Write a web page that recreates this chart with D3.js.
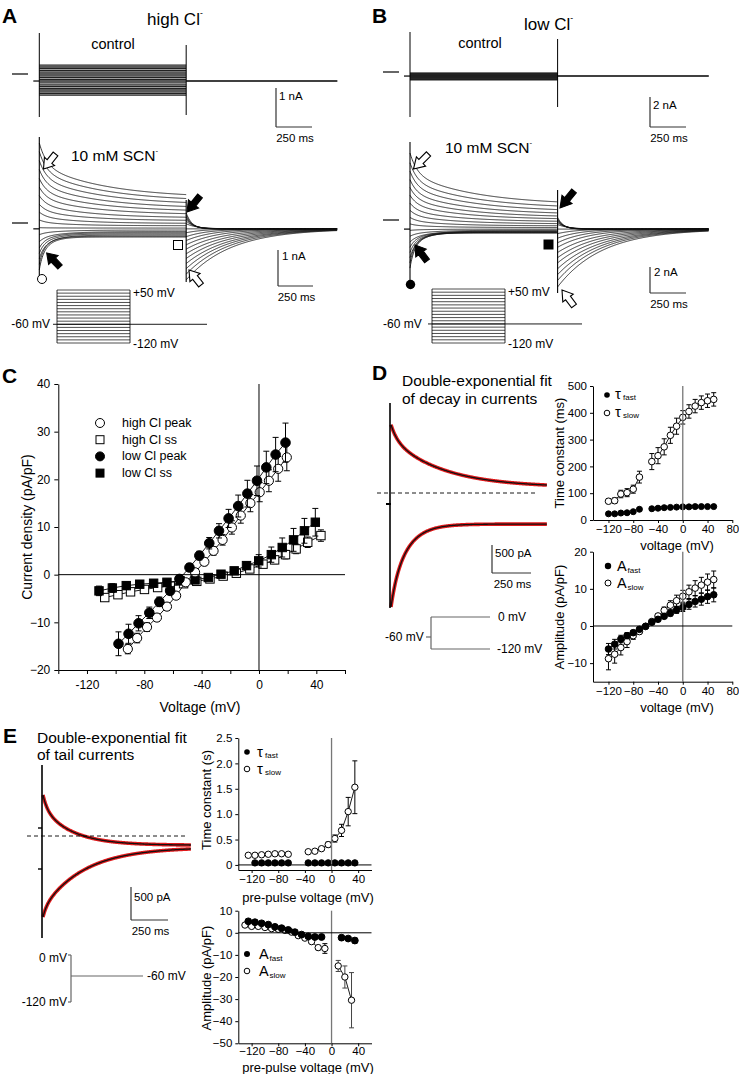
<!DOCTYPE html>
<html><head><meta charset="utf-8">
<script src="https://cdn.jsdelivr.net/npm/d3@7"></script>
<style>body{margin:0;background:#fff}</style>
</head><body><svg id="fig" width="739" height="1074"></svg>
<script>
// ---------------- DATA ----------------
const stepV = [-120,-110,-100,-90,-80,-70,-60,-50,-40,-30,-20,-10,0,10,20,30,40,50];
// Panel A (high Cl) currents in nA per sweep
const aCtrl  = [-0.54,-0.5,-0.46,-0.41,-0.37,-0.32,-0.28,-0.23,-0.18,-0.14,-0.09,-0.05,0.0,0.05,0.09,0.14,0.18,0.23];
const aPeak  = [-1.2,-1.06,-0.92,-0.78,-0.64,-0.48,-0.3,-0.12,0.08,0.28,0.48,0.7,0.92,1.14,1.37,1.6,1.83,2.05];
const aSS    = [-0.36,-0.34,-0.31,-0.28,-0.25,-0.22,-0.18,-0.13,-0.07,-0.01,0.06,0.13,0.21,0.29,0.37,0.46,0.55,0.64];
const aTail  = [0.26,0.2,0.15,0.1,0.05,-0.02,-0.15,-0.25,-0.35,-0.45,-0.56,-0.67,-0.79,-0.91,-1.04,-1.17,-1.31,-1.46];
// Panel B (low Cl)
const bCtrl  = [-0.53,-0.5,-0.48,-0.45,-0.42,-0.39,-0.36,-0.33,-0.3,-0.27,-0.24,-0.21,-0.18,-0.15,-0.13,-0.11,-0.09,-0.07];
const bPeak  = [-3.7,-3.3,-2.9,-2.5,-2.1,-1.7,-1.25,-0.8,-0.3,0.2,0.75,1.3,1.9,2.5,3.1,3.75,4.4,5.15];
const bSS    = [-1.0,-0.98,-0.95,-0.92,-0.88,-0.84,-0.78,-0.7,-0.58,-0.45,-0.3,-0.14,0.03,0.2,0.4,0.62,0.87,1.15];
const bTail  = [0.2,0.1,0.0,-0.1,-0.2,-0.35,-0.7,-1.05,-1.4,-1.75,-2.1,-2.5,-2.9,-3.3,-3.75,-4.2,-4.65,-5.15];
// time constants used for the sweeps (ms)
const swTauFast = [24,24,28,29,32,40,42,43,45,47,48,49,50,50,50,50,50,50];
const swTauSlow = [70,72,97,102,115,160,190,218,240,273,316,350,383,405,425,438,445,450];
const swTailTau = [40,40,45,50,60,80,100,130,160,190,220,250,270,285,295,300,305,310];

// Panel C (I-V), voltage in mV, current density pA/pF
const cHighPeakV = [-91.5,-85,-78.1,-71.2,-64.2,-57.8,-51.1,-44.6,-38.1,-31.7,-25.4,-18.9,-12.7,-6.0,0.5,6.9,13.4,19.4];
const cHighPeakI = [-15.6,-13.3,-11.0,-9.0,-6.7,-4.4,-1.6,0.5,2.7,5.0,7.3,9.9,12.4,15.0,17.3,19.7,22.2,24.6];
const cHighPeakE = [1.0,1.0,0.9,0.8,0.8,0.7,0.7,0.7,0.8,0.9,1.1,1.4,1.6,1.8,2.0,2.3,2.6,2.8];
const cHighSsV = [-107.6,-98.4,-89.6,-79.9,-70.7,-61.9,-52.6,-43.4,-34.2,-25.0,-15.8,-6.4,2.8,10.9,18.5,25.9,34,43.2];
const cHighSsI = [-4.8,-4.2,-3.6,-3.1,-2.7,-2.4,-1.9,-1.4,-0.9,-0.3,0.3,1.2,2.2,3.1,4.2,5.4,6.8,8.2];
const cHighSsE = [0.6,0.6,0.5,0.5,0.5,0.4,0.4,0.4,0.4,0.4,0.5,0.6,0.7,0.8,0.9,1.0,1.1,1.2];
const cLowPeakV = [-98,-91,-84,-76.5,-69.5,-62,-55.5,-48.5,-41.6,-34.7,-27.9,-21.2,-14.5,-8.1,-1.4,5.1,11.6,18.5];
const cLowPeakI = [-14.5,-12.4,-10.2,-8.0,-5.7,-3.4,-0.9,1.5,4.0,6.6,9.2,11.8,14.4,17.0,19.7,22.5,25.2,27.7];
const cLowPeakE = [2.5,2.0,1.6,1.2,1.0,0.8,0.8,0.8,0.9,1.2,1.5,1.9,2.3,2.8,3.1,3.4,3.6,4.1];
const cLowSsV = [-111.6,-102.3,-92.6,-83.2,-73.5,-64.2,-55,-44.6,-35.4,-26.5,-17.3,-8.7,-0.2,8.6,16.2,24.1,31.7,39.3];
const cLowSsI = [-3.4,-2.8,-2.3,-2.0,-1.8,-1.6,-1.3,-1.1,-0.6,0.1,0.8,1.9,2.9,4.2,5.7,7.3,9.2,11.0];
const cLowSsE = [1.0,0.9,0.8,0.7,0.6,0.6,0.5,0.5,0.5,0.5,0.6,0.8,1.3,1.6,2.0,2.4,2.6,2.9];
const cXTicks = [-140,-120,-100,-80,-60,-40,-20,0,20,40,60];
const cYTicks = [-20,-10,0,10,20,30,40];

// Panel D
const dDecayTop = {ss:100, aF:250, tF:40, aS:870, tS:330};   // pA, ms
const dDecayBot = {ss:-555, aF:-200, tF:30, aS:-1281, tS:100};
const dTauV = [-120,-110,-100,-90,-80,-70,-50,-40,-30,-20,-10,0,10,20,30,40,50];
const dTauSlow = [70,72,97,102,115,160,218,240,273,316,350,383,405,425,438,445,450];
const dTauSlowE = [8,10,14,15,15,22,30,30,30,30,30,25,25,25,25,25,25];
const dTauFast = [23,23,26,27,31,40,42,44,46,47,48,49,49,50,50,50,50];
const dAmpV = [-120,-110,-100,-90,-80,-70,-60,-50,-40,-30,-20,-10,0,10,20,30,40,50];
const dAmpFast = [-6.2,-4.9,-3.5,-2.6,-1.8,-0.9,-0.1,1.0,1.8,2.6,3.4,4.3,5.0,5.8,6.6,7.2,7.9,8.4];
const dAmpFastE = [1.5,1.3,1.0,0.8,0.6,0.4,0.3,0.3,0.4,0.5,0.7,0.9,1.1,1.3,1.5,1.6,1.8,1.9];
const dAmpSlow = [-8.8,-7.6,-5.8,-4.2,-2.6,-1.5,-0.1,1.2,2.7,4.2,5.6,6.8,8.0,9.2,10.2,11.0,11.8,12.5];
const dAmpSlowE = [3.0,2.4,2.0,1.6,1.0,0.6,0.3,0.4,0.6,0.9,1.2,1.5,1.6,1.8,2.0,2.1,2.2,2.3];
const dXTicks = [-120,-80,-40,0,40,80];

// Panel E
const eTailTop = {ss:-140, aF:204, tF:30, aS:557, tS:200};
const eTailBot = {ss:-170, aF:-133, tF:24, aS:-924, tS:280};
const eTauV1 = [-125,-115,-105,-95,-85,-75,-65];
const eTauV2 = [-35,-25,-15,-5,5,15,25,35];
const eTauSlow1 = [0.19,0.19,0.20,0.21,0.22,0.22,0.21];
const eTauSlow2 = [0.26,0.27,0.32,0.40,0.52,0.68,1.05,1.53];
const eTauSlowE2 = [0.02,0.02,0.03,0.05,0.07,0.12,0.28,0.52];
const eTauFastV1 = [-115,-105,-95,-85,-75,-65];
const eTauFast1 = [0.04,0.04,0.04,0.04,0.04,0.04];
const eTauFast2 = [0.04,0.04,0.04,0.04,0.04,0.04,0.04,0.04];
const eAmpFastV1 = [-125,-115,-105,-95,-85,-75,-65,-55,-45,-35,-25,-15];
const eAmpFast1 = [5.2,4.8,4.3,3.7,2.7,2.1,1.3,0.3,-0.8,-1.6,-1.9,-1.9];
const eAmpFastV2 = [15,25,35];
const eAmpFast2 = [-2.2,-2.6,-3.5];
const eAmpFastE2 = [0.3,0.4,1.2];
const eAmpSlowV1 = [-130,-120,-110,-100,-90,-80,-70,-60,-50,-40,-30,-20,-10];
const eAmpSlow1 = [3.5,2.9,2.9,2.4,1.9,1.6,1.1,0.3,-1.3,-2.4,-4.0,-6.7,-7.1];
const eAmpSlowE1 = [0.3,0.3,0.3,0.3,0.3,0.3,0.3,0.3,0.4,0.5,0.6,1.0,2.2];
const eAmpSlowV2 = [10,20,30];
const eAmpSlow2 = [-15,-20,-30.5];
const eAmpSlowE2 = [2.5,5,12.5];
const eXTicks = [-120,-80,-40,0,40];

// ---------------- DRAW ----------------
const FONT = "'Liberation Sans', Arial, Helvetica, sans-serif";
const svg = d3.select("#fig");
svg.append("rect").attr("width",739).attr("height",1074).attr("fill","#fff");

function txt(x,y,s,o={}) {
  return svg.append("text").attr("x",x).attr("y",y).attr("font-family",FONT)
    .attr("font-size",o.size||12).attr("text-anchor",o.anchor||"start")
    .attr("dominant-baseline",o.base||"central").attr("font-weight",o.weight||"normal")
    .attr("fill",o.fill||"#000").text(s);
}
function supTxt(x,y,main,sup,o={}) {
  const t = txt(x,y,"",o);
  t.append("tspan").text(main);
  t.append("tspan").attr("font-size",(o.size||12)*0.5).attr("dy",-(o.size||12)*0.35).text(sup);
  return t;
}
// legend symbol letter + subscript drawn as two separate texts
function legLabel(x,y,main,sub,size,subDx) {
  txt(x,y,main,{size:size});
  txt(x+subDx,y+4,sub,{size:8});
}
function line(x1,y1,x2,y2,o={}) {
  return svg.append("line").attr("x1",x1).attr("y1",y1).attr("x2",x2).attr("y2",y2)
    .attr("stroke",o.stroke||"#000").attr("stroke-width",o.w||1).attr("stroke-dasharray",o.dash||null);
}
function blockArrow(tipX,tipY,tailX,tailY,filled) {
  const dx=tipX-tailX, dy=tipY-tailY, L=Math.hypot(dx,dy);
  const ux=dx/L, uy=dy/L, nx=-uy, ny=ux;
  const h=L*0.5, w=6.5, s=3;
  const bx=tipX-ux*h, by=tipY-uy*h;
  const pts=[[tipX,tipY],[bx+nx*w,by+ny*w],[bx+nx*s,by+ny*s],[tailX+nx*s,tailY+ny*s],
             [tailX-nx*s,tailY-ny*s],[bx-nx*s,by-ny*s],[bx-nx*w,by-ny*w]];
  svg.append("polygon").attr("points",pts.map(p=>p.join(",")).join(" "))
    .attr("fill",filled?"#000":"#fff").attr("stroke","#000").attr("stroke-width",1.1);
}
function scaleBar(x,y0,y1,x1,lab1,lab2,o={}) {
  line(x,y0,x,y1,{stroke:"#333",w:1.2});
  line(x,y1,x1,y1,{stroke:"#333",w:1.2});
  txt(x+(o.dx||3),(o.ly||(y0+8)),lab1,{size:11.5});
  txt((x+x1)/2+1,y1+11,lab2,{size:11.5,anchor:"middle"});
}
const dexp = (p,t)=>p.ss + p.aF*Math.exp(-t/p.tF) + p.aS*Math.exp(-t/p.tS);

// ---------- Panel letters and titles ----------
txt(2,15,"A",{size:21,weight:"bold"});
txt(372,15,"B",{size:21,weight:"bold"});
txt(2,375,"C",{size:21,weight:"bold"});
txt(372,372,"D",{size:21,weight:"bold"});
txt(3,735,"E",{size:21,weight:"bold"});
supTxt(147,19,"high Cl","-",{size:17});
supTxt(524,24,"low Cl","-",{size:17});

// ---------- Traces A/B ----------
const tPulse = d3.range(0,1021,4);
const tTail = d3.range(0,1051,4);
function drawTraces(cfg) {
  const g = svg.append("g");
  const xs = d3.scaleLinear().domain([0,250]).range([cfg.x0, cfg.x0+36]);
  const pEnd = cfg.pEnd;
  const yc = d3.scaleLinear().domain([0,1]).range([cfg.cZero, cfg.cZero-cfg.cPx]);
  cfg.ctrl.forEach(v=>{
    g.append("line").attr("x1",xs(0)).attr("x2",xs(pEnd)).attr("y1",yc(v)).attr("y2",yc(v))
      .attr("stroke","#222").attr("stroke-width",cfg.cW);
  });
  line(xs(0)-6, yc(cfg.cHold), xs(0), yc(cfg.cHold), {w:1.2});
  line(xs(pEnd), yc(cfg.cHold), xs(pEnd+1050), yc(cfg.cHold), {w:1.6});
  line(xs(0), cfg.cSpike[0], xs(0), cfg.cSpike[1], {w:1});
  line(xs(pEnd), cfg.cSpike2[0], xs(pEnd), cfg.cSpike2[1], {w:1});
  line(cfg.mk0, yc(0), cfg.mk0+16, yc(0), {w:1.2});
  const ys = d3.scaleLinear().domain([0,1]).range([cfg.sZero, cfg.sZero-cfg.sPx]);
  const lg = d3.line().x(d=>d[0]).y(d=>d[1]);
  cfg.peak.forEach((pk,i)=>{
    const ss = cfg.ss[i];
    const pts = tPulse.map(t=>[xs(t), ys(ss + (pk-ss)*(0.4*Math.exp(-t/swTauFast[i]) + 0.6*Math.exp(-t/swTauSlow[i])))]);
    g.append("path").attr("d",lg(pts)).attr("fill","none").attr("stroke","#111").attr("stroke-width",0.85);
    const tl = cfg.tail[i];
    const tpts = tTail.map(t=>[xs(pEnd+t), ys(cfg.sHold + (tl-cfg.sHold)*Math.exp(-t/swTailTau[i]))]);
    g.append("path").attr("d",lg(tpts)).attr("fill","none").attr("stroke","#111").attr("stroke-width",0.85);
  });
  line(xs(0)-6, ys(cfg.sHold), xs(0), ys(cfg.sHold), {w:1.2});
  line(xs(0), cfg.sSpike[0], xs(0), cfg.sSpike[1], {w:1.1});
  line(xs(pEnd), cfg.sSpike2[0], xs(pEnd), cfg.sSpike2[1], {w:1.1});
  line(cfg.mk0, ys(0), cfg.mk0+16, ys(0), {w:1.2});
  const yp = d3.scaleLinear().domain([-120,50]).range([cfg.pBot, cfg.pTop]);
  stepV.forEach(v=> line(cfg.pX0, yp(v), cfg.pX1, yp(v), {w:0.8, stroke:"#222"}));
  line(cfg.pX0, yp(50), cfg.pX0, yp(-120), {w:0.8});
  line(cfg.pX1, yp(50), cfg.pX1, yp(-120), {w:0.8});
  line(cfg.pX0-4, yp(-60), cfg.hEnd, yp(-60), {w:0.9});
  txt(cfg.pX1+3, yp(50)+3, "+50 mV", {size:12});
  txt(cfg.pX1+3, yp(-120)+1, "-120 mV", {size:12});
  txt(cfg.hLab, yp(-60), "-60 mV", {size:12, anchor:cfg.hAnchor});
}
drawTraces({x0:39.3, pEnd:1020, cZero:74, cPx:39, ctrl:aCtrl, cHold:-0.18, cW:1.3,
  cSpike:[33,117], cSpike2:[45,115], mk0:12,
  sZero:223, sPx:39, peak:aPeak, ss:aSS, tail:aTail, sHold:-0.15,
  sSpike:[137,278], sSpike2:[200,282],
  pX0:57, pX1:130, pTop:290, pBot:343, hEnd:207, hLab:50, hAnchor:"end"});
drawTraces({x0:410, pEnd:1025, cZero:72, cPx:15, ctrl:bCtrl, cHold:-0.27, cW:1.1,
  cSpike:[32,117], cSpike2:[39,107], mk0:383,
  sZero:220, sPx:13, peak:bPeak, ss:bSS, tail:bTail, sHold:-0.7,
  sSpike:[142,283], sSpike2:[190,293],
  pX0:432, pX1:505, pTop:289, pBot:343, hEnd:582, hLab:383, hAnchor:"start"});

txt(113,44,"control",{size:14.5,anchor:"middle"});
txt(480,43,"control",{size:14.5,anchor:"middle"});
supTxt(71,155,"10 mM SCN","-",{size:15.5});
supTxt(445,147,"10 mM SCN","-",{size:15.5});
scaleBar(276,88,127,312,"1 nA","250 ms",{ly:96});
scaleBar(278,250,286,313,"1 nA","250 ms",{ly:256,dx:4});
scaleBar(650,97,127,686,"2 nA","250 ms",{ly:105});
scaleBar(650,267,293,686,"2 nA","250 ms",{ly:272,dx:4});
svg.append("circle").attr("cx",42).attr("cy",279).attr("r",4.5).attr("fill","#fff").attr("stroke","#000").attr("stroke-width",1);
svg.append("rect").attr("x",173.5).attr("y",240.5).attr("width",9).attr("height",9).attr("fill","#fff").attr("stroke","#000").attr("stroke-width",1);
svg.append("circle").attr("cx",410.5).attr("cy",284.5).attr("r",4.7).attr("fill","#000");
svg.append("rect").attr("x",543.5).attr("y",239.5).attr("width",10).attr("height",10).attr("fill","#000");
blockArrow(43.5,169,55.5,154,false);
blockArrow(46.7,253,60,267,true);
blockArrow(187,212,200,196,true);
blockArrow(189,270,201,285,false);
blockArrow(413.5,169,428.5,154,false);
blockArrow(415,245,427,261,true);
blockArrow(560,208,574,191,true);
blockArrow(562,290,574,306,false);

// ---------- Scatter helper ----------
function plotSeries(g, xs, ys, es, xsc, ysc, o) {
  const pts = xs.map((v,i)=>({x:xsc(v), y:ysc(ys[i]), e:es?es[i]:0, val:ys[i]}));
  const cap = o.cap||3;
  pts.forEach(p=>{
    if (!p.e) return;
    const y1 = ysc(p.val+p.e), y2 = ysc(p.val-p.e);
    g.append("line").attr("x1",p.x).attr("x2",p.x).attr("y1",y1).attr("y2",y2).attr("stroke",o.ebColor||"#000").attr("stroke-width",o.ebW||1);
    [y1,y2].forEach(yy=>g.append("line").attr("x1",p.x-cap).attr("x2",p.x+cap).attr("y1",yy).attr("y2",yy).attr("stroke",o.ebColor||"#000").attr("stroke-width",o.ebW||1));
  });
  if (o.line) g.append("path").attr("d",d3.line().x(d=>d.x).y(d=>d.y)(pts)).attr("fill","none").attr("stroke","#000").attr("stroke-width",o.lw||0.9);
  pts.forEach(p=>{
    if (o.shape==="square") {
      g.append("rect").attr("x",p.x-o.r).attr("y",p.y-o.r).attr("width",2*o.r).attr("height",2*o.r)
        .attr("fill",o.filled?"#000":"#fff").attr("stroke","#000").attr("stroke-width",o.sw||1);
    } else {
      g.append("circle").attr("cx",p.x).attr("cy",p.y).attr("r",o.r)
        .attr("fill",o.filled?"#000":"#fff").attr("stroke","#000").attr("stroke-width",o.sw||1);
    }
  });
}
function styleAxis(g, size) {
  g.selectAll("path.domain").attr("stroke","#000").attr("stroke-width",1);
  g.selectAll(".tick line").attr("stroke","#000").attr("stroke-width",1);
  g.selectAll(".tick text").attr("font-family",FONT).attr("font-size",size||11.5).attr("fill","#000");
}

// ---------- Panel C ----------
{
  const x = d3.scaleLinear().domain([-140,60]).range([58.3,345]);
  const y = d3.scaleLinear().domain([-20,40]).range([670,384]);
  const g = svg.append("g");
  line(x(-140), y(0), x(60), y(0), {w:1});
  line(x(0), y(40), x(0), y(-20), {w:1});
  const ax = g.append("g").attr("transform",`translate(0,${y(-20)})`)
    .call(d3.axisBottom(x).tickValues(cXTicks).tickSize(4).tickSizeOuter(0).tickPadding(6)
      .tickFormat(d=>[-120,-80,-40,0,40].includes(d)?d:""));
  styleAxis(ax,12);
  const ay = g.append("g").attr("transform",`translate(${x(-140)},0)`)
    .call(d3.axisLeft(y).tickValues(cYTicks).tickSize(4).tickSizeOuter(0).tickPadding(4));
  styleAxis(ay,12);
  plotSeries(g, cHighSsV, cHighSsI, cHighSsE, x, y, {shape:"square", r:4.2, filled:false, line:true});
  plotSeries(g, cLowSsV, cLowSsI, cLowSsE, x, y, {shape:"square", r:4.2, filled:true, line:true});
  plotSeries(g, cHighPeakV, cHighPeakI, cHighPeakE, x, y, {r:4.6, filled:false, line:true});
  plotSeries(g, cLowPeakV, cLowPeakI, cLowPeakE, x, y, {r:4.8, filled:true, line:true});
  const leg = [["high Cl peak","circle",false],["high Cl ss","square",false],["low Cl peak","circle",true],["low Cl ss","square",true]];
  leg.forEach((l,i)=>{
    const yy = 423 + i*16.7;
    if (l[1]==="circle") svg.append("circle").attr("cx",100).attr("cy",yy).attr("r",4.5).attr("fill",l[2]?"#000":"#fff").attr("stroke","#000");
    else svg.append("rect").attr("x",96).attr("y",yy-4).attr("width",8).attr("height",8).attr("fill",l[2]?"#000":"#fff").attr("stroke","#000");
    txt(122, yy, l[0], {size:12.5});
  });
  txt(200,707,"Voltage (mV)",{size:14,anchor:"middle"});
  txt(27,527,"Current density (pA/pF)",{size:14,anchor:"middle"}).attr("transform","rotate(-90,27,527)");
}

// ---------- Panel D ----------
txt(402,380,"Double-exponential fit",{size:15.5});
txt(402,398,"of decay in currents",{size:15.5});
{
  const x = d3.scaleLinear().domain([0,1000]).range([391,547]);
  const y = d3.scaleLinear().domain([0,500]).range([493,465]);
  const ts = d3.range(0,1001,3);
  const lg = d3.line().x(t=>x(t));
  [dDecayTop, dDecayBot].forEach(p=>{
    const d = lg.y(t=>y(dexp(p,t)))(ts);
    svg.append("path").attr("d",d).attr("fill","none").attr("stroke","#e0191b").attr("stroke-width",3.6);
    svg.append("path").attr("d",d).attr("fill","none").attr("stroke","#111").attr("stroke-width",1.3);
  });
  line(390,403,390,608,{w:1.6});
  line(386,504,391,504,{w:2});
  line(377,493,538,493,{w:0.9,dash:"4,3"});
  scaleBar(492,545,573,531,"500 pA","250 ms",{ly:553,dx:3});
  const gc = "#666";
  line(431,617,431,649,{stroke:gc,w:1.2});
  line(431,617,490,617,{stroke:gc,w:1.2});
  line(431,649,490,649,{stroke:gc,w:1.2});
  line(426,637,431,637,{stroke:gc,w:1.2});
  txt(385,637,"-60 mV",{size:12});
  txt(498,617,"0 mV",{size:12});
  txt(497,649,"-120 mV",{size:12});
}
// D top: tau
{
  const x = d3.scaleLinear().domain([-145,80]).range([593,732.3]);
  const y = d3.scaleLinear().domain([0,500]).range([520,386]);
  const g = svg.append("g");
  line(x(0), y(500), x(0), y(0), {stroke:"#777",w:1.3});
  const ax = g.append("g").attr("transform",`translate(0,${y(0)})`)
    .call(d3.axisBottom(x).tickValues(dXTicks).tickSize(3).tickSizeOuter(0).tickPadding(2));
  styleAxis(ax,11.5);
  const ay = g.append("g").attr("transform",`translate(${x(-145)},0)`)
    .call(d3.axisLeft(y).tickValues([0,100,200,300,400,500]).tickSize(3).tickSizeOuter(0).tickPadding(3));
  styleAxis(ay,11.5);
  plotSeries(g, dTauV.slice(0,6), dTauSlow.slice(0,6), dTauSlowE.slice(0,6), x, y, {r:3.3, filled:false, line:true, cap:2.5});
  plotSeries(g, dTauV.slice(6), dTauSlow.slice(6), dTauSlowE.slice(6), x, y, {r:3.3, filled:false, line:true, cap:2.5});
  plotSeries(g, dTauV, dTauFast, null, x, y, {r:3, filled:true});
  g.append("circle").attr("cx",607).attr("cy",395).attr("r",2.8);
  g.append("circle").attr("cx",607).attr("cy",413).attr("r",2.8).attr("fill","#fff").attr("stroke","#000");
  legLabel(615,393,"τ","fast",15,8);
  legLabel(615,411,"τ","slow",15,8);
  txt(677,545,"voltage (mV)",{size:13,anchor:"middle"});
  txt(559,453,"Time constant (ms)",{size:13,anchor:"middle"}).attr("transform","rotate(-90,559,453)");
}
// D bottom: amplitude
{
  const x = d3.scaleLinear().domain([-145,80]).range([593,732.3]);
  const y = d3.scaleLinear().domain([-15,20]).range([681.7,551.7]);
  const g = svg.append("g");
  line(x(0), y(20), x(0), y(-15), {stroke:"#777",w:1.3});
  line(x(-145), y(0), x(80), y(0), {w:1});
  const ax = g.append("g").attr("transform",`translate(0,${y(-15)})`)
    .call(d3.axisBottom(x).tickValues(dXTicks).tickSize(3).tickSizeOuter(0).tickPadding(2));
  styleAxis(ax,11.5);
  const ay = g.append("g").attr("transform",`translate(${x(-145)},0)`)
    .call(d3.axisLeft(y).tickValues([-10,0,10,20]).tickSize(3).tickSizeOuter(0).tickPadding(3));
  styleAxis(ay,11.5);
  plotSeries(g, dAmpV, dAmpSlow, dAmpSlowE, x, y, {r:3.3, filled:false, line:true, cap:2.5});
  plotSeries(g, dAmpV, dAmpFast, dAmpFastE, x, y, {r:3.3, filled:true, line:true, cap:2.5});
  g.append("circle").attr("cx",608).attr("cy",566).attr("r",3.2);
  g.append("circle").attr("cx",608).attr("cy",583).attr("r",3).attr("fill","#fff").attr("stroke","#000");
  legLabel(617,566,"A","fast",14.5,10.5);
  legLabel(617,583,"A","slow",14.5,10.5);
  txt(677,707,"voltage (mV)",{size:13,anchor:"middle"});
  txt(559,617,"Amplitude (pA/pF)",{size:13,anchor:"middle"}).attr("transform","rotate(-90,559,617)");
}

// ---------- Panel E ----------
txt(37,737,"Double-exponential fit",{size:15.5});
txt(37,754,"of tail currents",{size:15.5});
{
  const x = d3.scaleLinear().domain([0,1000]).range([43,191]);
  const y = d3.scaleLinear().domain([0,500]).range([836,803]);
  const ts = d3.range(0,1001,3);
  const lg = d3.line().x(t=>x(t));
  [eTailTop, eTailBot].forEach(p=>{
    const d = lg.y(t=>y(dexp(p,t)))(ts);
    svg.append("path").attr("d",d).attr("fill","none").attr("stroke","#e0191b").attr("stroke-width",3.6);
    svg.append("path").attr("d",d).attr("fill","none").attr("stroke","#111").attr("stroke-width",1.3);
  });
  line(42,765,42,938,{w:1.6});
  line(38,828,42,828,{w:1.4});
  line(38,869,42,869,{w:1.4});
  line(27,836,188,836,{w:0.9,dash:"4,3"});
  scaleBar(131,887,920,168,"500 pA","250 ms",{ly:897,dx:3});
  const gc = "#666";
  line(71,955,71,1002,{stroke:gc,w:1.2});
  line(68,955,71,955,{stroke:gc,w:1.2});
  line(68,1002,71,1002,{stroke:gc,w:1.2});
  line(71,976,143,976,{stroke:gc,w:1.2});
  txt(67,958,"0 mV",{size:12,anchor:"end"});
  txt(147,976,"-60 mV",{size:12});
  txt(67,1002,"-120 mV",{size:12,anchor:"end"});
}
// E top
{
  const x = d3.scaleLinear().domain([-140,60]).range([238.3,371.5]);
  const y = d3.scaleLinear().domain([-0.1,2.5]).range([870,738]);
  const g = svg.append("g");
  line(x(0), y(2.5), x(0), y(-0.1), {stroke:"#777",w:1.3});
  line(x(-140), y(0), x(60), y(0), {w:1});
  const ax = g.append("g").attr("transform",`translate(0,${y(-0.1)})`)
    .call(d3.axisBottom(x).tickValues(eXTicks).tickSize(3).tickSizeOuter(0).tickPadding(2));
  styleAxis(ax,11.5);
  const ay = g.append("g").attr("transform",`translate(${x(-140)},0)`)
    .call(d3.axisLeft(y).tickValues([0,0.5,1.0,1.5,2.0,2.5]).tickSize(3).tickSizeOuter(0).tickPadding(3)
      .tickFormat(d=>d===0?"0":d3.format(".1f")(d)));
  styleAxis(ay,11.5);
  plotSeries(g, eTauV1, eTauSlow1, null, x, y, {r:3.2, filled:false});
  plotSeries(g, eTauV2, eTauSlow2, eTauSlowE2, x, y, {r:3.2, filled:false, line:true, cap:2.5});
  plotSeries(g, eTauFastV1, eTauFast1, null, x, y, {r:3.2, filled:true});
  plotSeries(g, eTauV2, eTauFast2, null, x, y, {r:3.2, filled:true});
  g.append("circle").attr("cx",247).attr("cy",752).attr("r",2.8);
  g.append("circle").attr("cx",247).attr("cy",769).attr("r",2.8).attr("fill","#fff").attr("stroke","#000");
  legLabel(257,751,"τ","fast",15,8);
  legLabel(257,768,"τ","slow",15,8);
  txt(308,897,"pre-pulse voltage (mV)",{size:13,anchor:"middle"});
  txt(206,800,"Time constant (s)",{size:13,anchor:"middle"}).attr("transform","rotate(-90,206,800)");
}
// E bottom
{
  const x = d3.scaleLinear().domain([-140,60]).range([238.3,371.5]);
  const y = d3.scaleLinear().domain([-50,10]).range([1043.3,910.7]);
  const g = svg.append("g");
  line(x(0), y(10), x(0), y(-50), {stroke:"#777",w:1.3});
  line(x(-140), y(0), x(60), y(0), {w:1});
  const ax = g.append("g").attr("transform",`translate(0,${y(-50)})`)
    .call(d3.axisBottom(x).tickValues(eXTicks).tickSize(3).tickSizeOuter(0).tickPadding(1));
  styleAxis(ax,11.5);
  const ay = g.append("g").attr("transform",`translate(${x(-140)},0)`)
    .call(d3.axisLeft(y).tickValues([-50,-40,-30,-20,-10,0,10]).tickSize(3).tickSizeOuter(0).tickPadding(3));
  styleAxis(ay,11.5);
  plotSeries(g, eAmpSlowV1, eAmpSlow1, eAmpSlowE1, x, y, {r:3.2, filled:false, line:true, cap:2.5});
  plotSeries(g, eAmpSlowV2, eAmpSlow2, eAmpSlowE2, x, y, {r:3.2, filled:false, line:true, cap:2.5, ebColor:"#444"});
  plotSeries(g, eAmpFastV1, eAmpFast1, null, x, y, {r:3.4, filled:true, line:true});
  plotSeries(g, eAmpFastV2, eAmpFast2, eAmpFastE2, x, y, {r:3.4, filled:true, line:true, cap:2.5});
  g.append("circle").attr("cx",247).attr("cy",954).attr("r",3);
  g.append("circle").attr("cx",247).attr("cy",971).attr("r",2.8).attr("fill","#fff").attr("stroke","#000");
  legLabel(259,954,"A","fast",14.5,10.5);
  legLabel(259,971,"A","slow",14.5,10.5);
  txt(308,1067,"pre-pulse voltage (mV)",{size:13,anchor:"middle"});
  txt(206,978,"Amplitude (pA/pF)",{size:13,anchor:"middle"}).attr("transform","rotate(-90,206,978)");
}
</script>
</body></html>
